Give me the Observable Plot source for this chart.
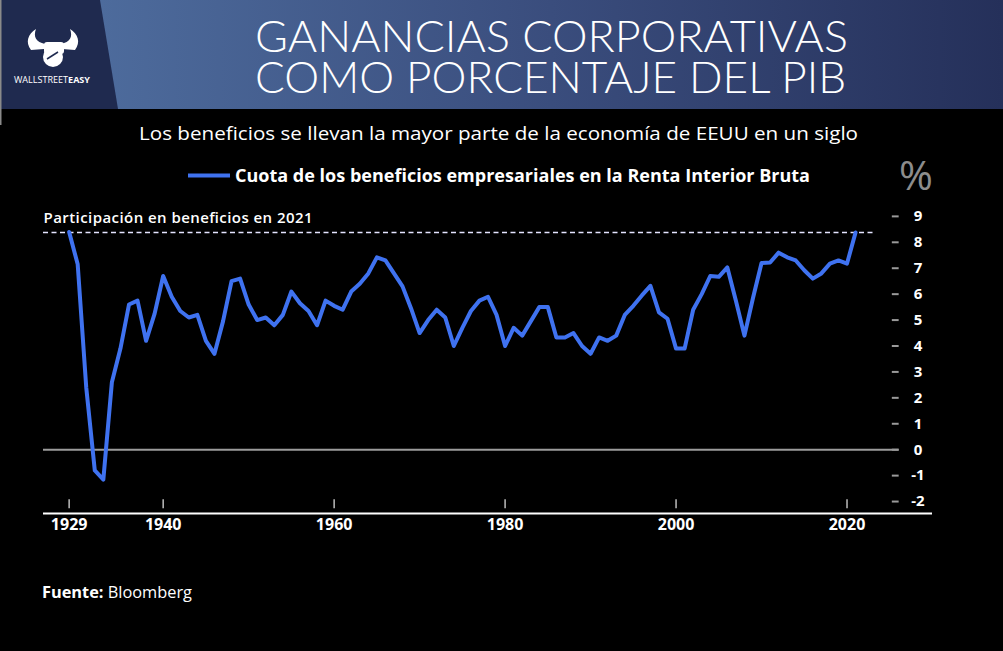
<!DOCTYPE html>
<html>
<head>
<meta charset="utf-8">
<script src="https://cdn.jsdelivr.net/npm/d3@7"></script>
<script src="https://cdn.jsdelivr.net/npm/@observablehq/plot@0.6"></script>
<style>
  html, body { margin: 0; padding: 0; background: #000; width: 1003px; height: 651px; overflow: hidden; }
  #chart { position: absolute; left: 0; top: 140px; }
  #overlay { position: absolute; left: 0; top: 0; pointer-events: none; }
</style>
</head>
<body>
<div id="chart"></div>
<svg id="overlay" width="1003" height="651" xmlns="http://www.w3.org/2000/svg"></svg>
<script>
// ---- data ----
const titleLines = ["GANANCIAS CORPORATIVAS", "COMO PORCENTAJE DEL PIB"];
const subtitle = "Los beneficios se llevan la mayor parte de la economía de EEUU en un siglo";
const seriesName = "Cuota de los beneficios empresariales en la Renta Interior Bruta";
const annotationText = "Participación en beneficios en 2021";
const sourceLabel = "Fuente:";
const sourceName = "Bloomberg";
const years = d3.range(1929, 2022);
const profitShare = [
  8.4, 7.15, 2.4, -0.8, -1.15, 2.6, 3.9, 5.6, 5.75, 4.2,
  5.25, 6.7, 5.9, 5.35, 5.1, 5.2, 4.2, 3.7, 4.95, 6.5,
  6.6, 5.6, 5.0, 5.1, 4.8, 5.2, 6.1, 5.65, 5.35, 4.8,
  5.75, 5.55, 5.4, 6.1, 6.4, 6.8, 7.42, 7.3, 6.8, 6.3,
  5.45, 4.5, 5.0, 5.4, 5.1, 4.0, 4.7, 5.35, 5.75, 5.9,
  5.2, 4.0, 4.7, 4.4, 4.95, 5.5, 5.5, 4.33, 4.33, 4.5,
  4.0, 3.7, 4.33, 4.2, 4.4, 5.2, 5.55, 5.95, 6.32, 5.3,
  5.05, 3.9, 3.9, 5.4, 6.0, 6.7, 6.67, 7.03, 5.75, 4.4,
  5.85, 7.2, 7.22, 7.6, 7.42, 7.3, 6.92, 6.6, 6.8, 7.18,
  7.3, 7.18, 8.38
];
const xTicks = [1929, 1940, 1960, 1980, 2000, 2020];
const yTicks = [-2, -1, 0, 1, 2, 3, 4, 5, 6, 7, 8, 9];

const data = years.map((y, i) => ({year: y, share: profitShare[i]}));
const share2021 = profitShare[profitShare.length - 1];

const LINE_BLUE = "#3f72f0";

const chart = Plot.plot({
  width: 1003,
  height: 410,
  marginLeft: 43,
  marginRight: 71,
  marginTop: 37,
  marginBottom: 36,
  style: {background: "transparent", color: "white", fontFamily: "'Open Sans', sans-serif"},
  x: {domain: [1926, 2030], axis: null},
  y: {domain: [-2.5, 10.5], axis: null},
  marks: [
    Plot.ruleY([-2.5], {x1: 1926, x2: 2030, stroke: "white", strokeWidth: 2, dy: -1}),
    Plot.ruleX(xTicks, {y1: -1.93, y2: -2.28, stroke: "#bdbdbd", strokeWidth: 1.5}),
    Plot.axisX(xTicks, {label: null, tickSize: 0, tickPadding: 4, fontSize: 16, fontWeight: "bold", fill: "white", tickFormat: d => String(d)}),
    Plot.ruleY(yTicks, {x1: 2025.3, x2: 2026.1, stroke: "#9a9a9a", strokeWidth: 2}),
    Plot.text(yTicks, {x: 2028.3, y: d => d, text: d => String(d), fill: "white", fontSize: 15, fontWeight: "bold", textAnchor: "middle"}),
    Plot.ruleY([0], {x1: 1926, x2: 2026.1, stroke: "#9c9c9c", strokeWidth: 2}),
    Plot.ruleY([share2021], {x1: 1926, x2: 2023.45, stroke: "#e4e4ff", strokeWidth: 1.6, strokeDasharray: "5,3.5"}),
    Plot.text([annotationText], {x: 1926, y: 8.73, text: d => d, textAnchor: "start", lineAnchor: "bottom", fill: "white", fontSize: 15, fontWeight: 600}),
    Plot.line(data, {x: "year", y: "share", stroke: LINE_BLUE, strokeWidth: 4, strokeLinejoin: "round"})
  ]
});
document.getElementById("chart").appendChild(chart);
chart.querySelectorAll("text").forEach(t => {
  if (t.textContent === annotationText) { t.setAttribute("textLength", 269); t.setAttribute("lengthAdjust", "spacing"); }
});

// ---- overlay: header, subtitle, legend, units, source ----
const ov = d3.select("#overlay");
const defs = ov.append("defs");
const g = defs.append("linearGradient").attr("id", "hdr").attr("x1", "0").attr("x2", "1").attr("y1", "0").attr("y2", "0");
g.append("stop").attr("offset", "0").attr("stop-color", "#4d6b9c");
g.append("stop").attr("offset", "0.5").attr("stop-color", "#3a4d7d");
g.append("stop").attr("offset", "1").attr("stop-color", "#25305a");
ov.append("rect").attr("x", 100).attr("y", 0).attr("width", 903).attr("height", 109).attr("fill", "url(#hdr)");
ov.append("path").attr("d", "M0,0 L100,0 L118,109 L0,109 Z").attr("fill", "#1f2a4f");
ov.append("line").attr("x1", 0.75).attr("x2", 0.75).attr("y1", 0).attr("y2", 125).attr("stroke", "#8a8a8a").attr("stroke-width", 1.5);

// logo
const logo = ov.append("g").attr("fill", "white");
logo.append("path").attr("d", "M31,50 C25,42 28,34 36,29 C33,37 36,42 45,44 L44,49 Z");
logo.append("path").attr("d", "M75,50 C81,42 78,34 70,29 C73,37 70,42 61,44 L62,49 Z");
logo.append("rect").attr("x", 44).attr("y", 42).attr("width", 20).attr("height", 12).attr("rx", 3);
logo.append("circle").attr("cx", 53).attr("cy", 57).attr("r", 10);
logo.append("path").attr("d", "M47,59 L58,52").attr("stroke", "#1f2a4f").attr("stroke-width", 1.5);
const lt = ov.append("text").attr("x", 14).attr("y", 83).attr("font-family", "'Open Sans', sans-serif").attr("font-size", 9).attr("fill", "white")
  .attr("textLength", 76).attr("lengthAdjust", "spacingAndGlyphs");
lt.append("tspan").text("WALLSTREET");
lt.append("tspan").attr("font-weight", "bold").text("EASY");

// title (one text element, two lines, tight leading as in the original)
const tt = ov.append("text").attr("font-family", "Lato, 'Open Sans', sans-serif").attr("font-weight", 300).attr("font-size", 43).attr("fill", "white");
titleLines.forEach((line, i) => {
  tt.append("tspan").attr("x", 255).attr("y", 52 + i * 41)
    .attr("textLength", i === 0 ? 593 : 591).attr("lengthAdjust", "spacingAndGlyphs").text(line);
});

// subtitle
ov.append("text").attr("x", 139).attr("y", 139.5).attr("font-family", "'Open Sans', sans-serif").attr("font-size", 19)
  .attr("fill", "white").attr("textLength", 719).attr("lengthAdjust", "spacingAndGlyphs").text(subtitle);

// legend
ov.append("line").attr("x1", 188).attr("x2", 230).attr("y1", 175.5).attr("y2", 175.5).attr("stroke", LINE_BLUE).attr("stroke-width", 4);
ov.append("text").attr("x", 235).attr("y", 182).attr("font-family", "'Open Sans', sans-serif").attr("font-weight", "bold").attr("font-size", 17)
  .attr("fill", "white").attr("textLength", 575).attr("lengthAdjust", "spacingAndGlyphs").text(seriesName);

// units
ov.append("text").attr("x", 916).attr("y", 190).attr("text-anchor", "middle").attr("font-family", "'Open Sans', sans-serif")
  .attr("font-size", 41).attr("fill", "#8c8c8c").text("%");

// source
const st = ov.append("text").attr("x", 42).attr("y", 598).attr("font-family", "'Open Sans', sans-serif").attr("font-size", 15.5).attr("fill", "white")
  .attr("textLength", 150).attr("lengthAdjust", "spacingAndGlyphs");
st.append("tspan").attr("font-weight", "bold").text(sourceLabel + " ");
st.append("tspan").text(sourceName);
</script>
</body>
</html>
